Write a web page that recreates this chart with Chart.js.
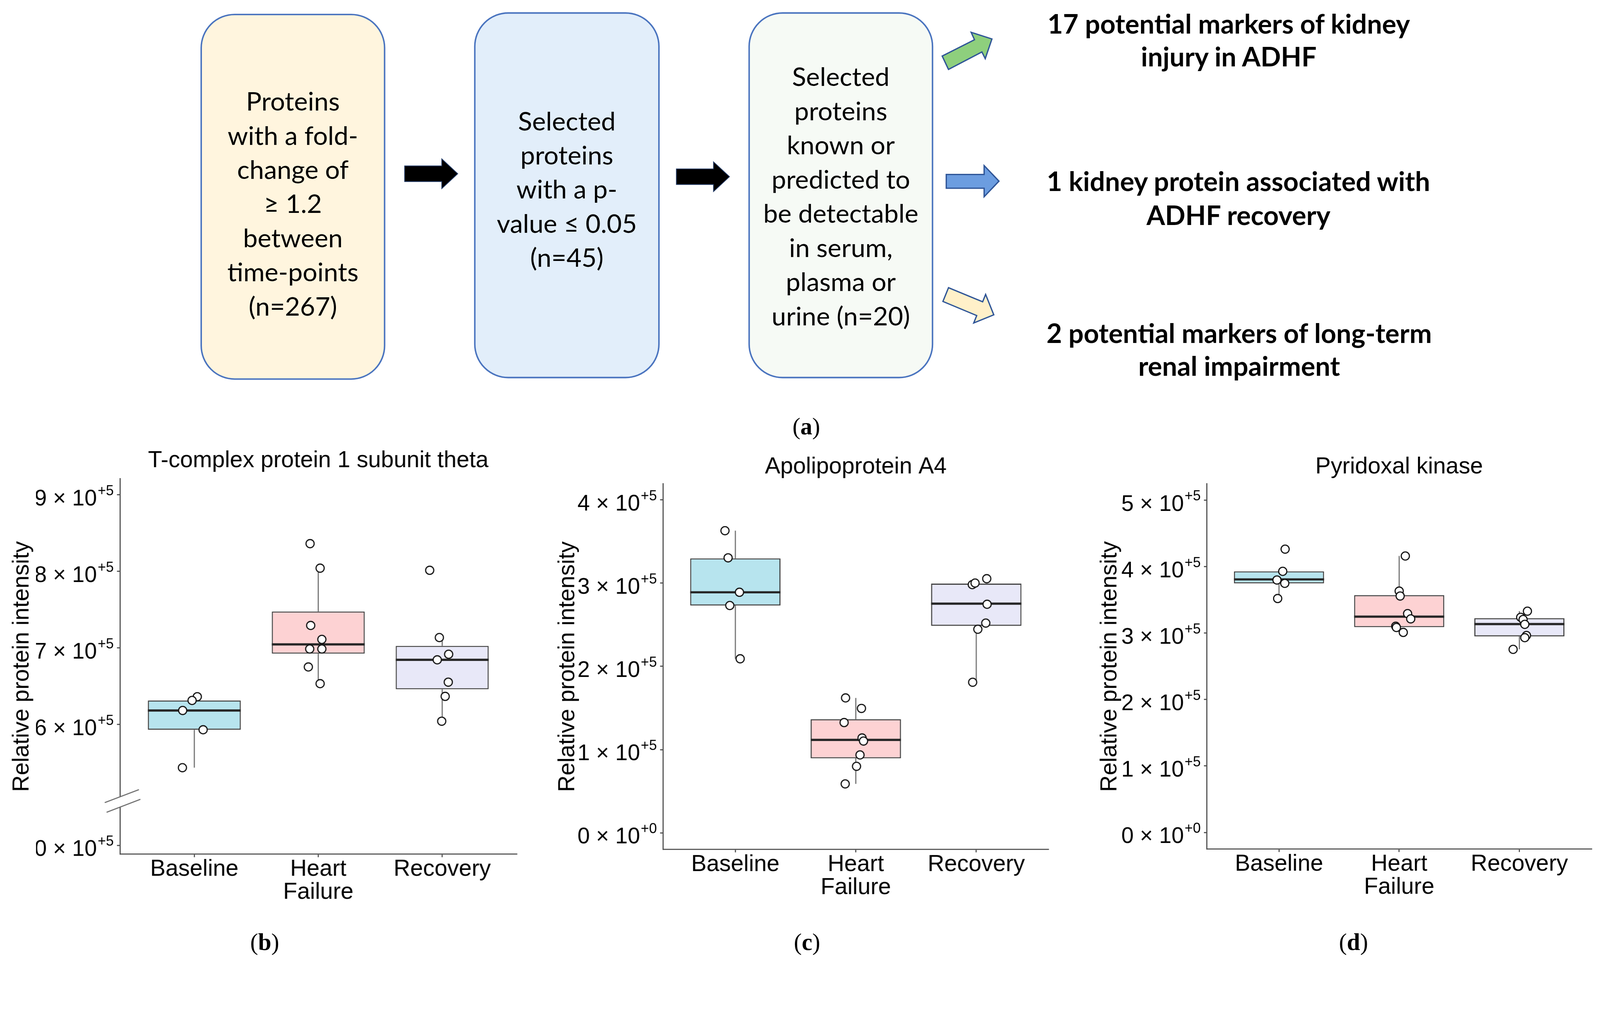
<!DOCTYPE html>
<html>
<head>
<meta charset="utf-8">
<script src="https://cdn.jsdelivr.net/npm/chart.js@4.4.1/dist/chart.umd.min.js"></script>
<style>
  html, body { margin:0; padding:0; background:#fff; overflow:hidden; }
  body { width:4310px; height:2606px; position:relative; transform-origin:0 0; }
  .box { position:absolute; box-sizing:border-box; border:4px solid #4a74bf; border-radius:92px; }
  .btxt { position:absolute; text-align:center; font-family:Lato, 'Open Sans', sans-serif; font-size:70px; line-height:92px; color:#000; white-space:nowrap; }
  .rtxt { position:absolute; text-align:center; font-family:Lato, 'Open Sans', sans-serif; font-weight:bold; font-size:72px; color:#000; white-space:nowrap; width:1400px; }
  .cap { position:absolute; font-family:'Liberation Serif', 'DejaVu Serif', serif; font-size:64px; color:#000; white-space:nowrap; transform:translate(-50%,-50%); }
  .panel { position:absolute; }
</style>
</head>
<body>
<!-- (a) flow chart -->
<div class="box" style="left:540px;top:37px;width:498px;height:986px;background:#fff5de;"></div>
<div class="box" style="left:1277px;top:33px;width:500px;height:986px;background:#e2eefa;"></div>
<div class="box" style="left:2016px;top:33px;width:498px;height:986px;background:#f6faf5;"></div>

<div class="btxt" style="left:540px;width:498px;top:225px;">Proteins<br>with a fold-<br>change of<br>≥ 1.2<br>between<br>time-points<br>(n=267)</div>
<div class="btxt" style="left:1277px;width:500px;top:278px;">Selected<br>proteins<br>with a p-<br>value ≤ 0.05<br>(n=45)</div>
<div class="btxt" style="left:2016px;width:498px;top:159px;">Selected<br>proteins<br>known or<br>predicted to<br>be detectable<br>in serum,<br>plasma or<br>urine (n=20)</div>

<svg style="position:absolute;left:0;top:0;" width="4310" height="1100">
  <polygon points="1090,447 1190,447 1190,428 1233,468 1190,508 1190,489 1090,489" fill="#000" stroke="#1f3864" stroke-width="2" stroke-linejoin="miter"/>
  <polygon points="1822,455 1922,455 1922,436 1965,476 1922,516 1922,497 1822,497" fill="#000" stroke="#1f3864" stroke-width="2" stroke-linejoin="miter"/>
  <polygon points="2555,187 2538,151 2625,107 2616,87 2672,105 2654,158 2645,140" fill="#8ecf7d" stroke="#2f5597" stroke-width="3.5" stroke-linejoin="miter"/>
  <polygon points="2549,470 2651,470 2651,446 2691,488 2651,530 2651,507 2549,507" fill="#6c9de0" stroke="#2f5597" stroke-width="3.5" stroke-linejoin="miter"/>
  <polygon points="2555,775 2540,812 2631,850 2623,870 2677,848 2655,793 2647,813" fill="#fff0c9" stroke="#2f5597" stroke-width="3.5" stroke-linejoin="miter"/>
</svg>

<div class="rtxt" style="left:2610px;top:18px;line-height:89px;">17 potential markers of kidney<br>injury in ADHF</div>
<div class="rtxt" style="left:2636px;top:442px;line-height:91px;">1 kidney protein associated with<br>ADHF recovery</div>
<div class="rtxt" style="left:2638px;top:852px;line-height:88px;">2 potential markers of long-term<br>renal impairment</div>

<div class="cap" style="left:2172px;top:1149px;">(<b>a</b>)</div>
<div class="cap" style="left:713px;top:2538px;">(<b>b</b>)</div>
<div class="cap" style="left:2174px;top:2538px;">(<b>c</b>)</div>
<div class="cap" style="left:3646px;top:2538px;">(<b>d</b>)</div>

<div class="panel" style="left:0px;top:1150px;width:1440px;height:1330px;"><canvas id="chartB" width="1440" height="1330" style="width:1440px;height:1330px;"></canvas></div>
<div class="panel" style="left:1450px;top:1150px;width:1420px;height:1330px;"><canvas id="chartC" width="1420" height="1330" style="width:1420px;height:1330px;"></canvas></div>
<div class="panel" style="left:2880px;top:1150px;width:1430px;height:1330px;"><canvas id="chartD" width="1430" height="1330" style="width:1430px;height:1330px;"></canvas></div>

<script>
// ---------- shared categories ----------
const categoryLabels = [['Baseline'], ['Heart', 'Failure'], ['Recovery']];
const categoryPos = [1, 2, 3];
const boxFill = ['#b7e4ee', '#fdd2d3', '#e8e8f8'];
const yAxisTitle = 'Relative protein intensity';

// ---------- (b) T-complex protein 1 subunit theta ----------
const tcpTitle = 'T-complex protein 1 subunit theta';
const tcpBaseline = [636400, 631500, 618400, 593200, 543700];
const tcpBaselineJit = [0.024, -0.018, -0.094, 0.071, -0.096];
const tcpHeart = [836200, 804200, 729400, 711200, 698700, 698700, 675200, 653400];
const tcpHeartJit = [-0.066, 0.015, -0.061, 0.029, -0.069, 0.029, -0.080, 0.015];
const tcpRecovery = [801400, 713600, 691800, 684500, 655400, 636800, 604400];
const tcpRecoveryJit = [-0.101, -0.023, 0.052, -0.040, 0.049, 0.024, -0.004];
const tcpLo  = [543700, 653400, 604400];
const tcpQ1  = [593200, 692600, 646100];
const tcpMed = [618400, 704700, 684500];
const tcpQ3  = [631500, 747600, 702700];
const tcpHi  = [636400, 804200, 713600];
const tcpTickValues = [0, 600000, 700000, 800000, 900000];
const tcpTickLabels = ['0 × 10', '6 × 10', '7 × 10', '8 × 10', '9 × 10'];
const tcpTickExp    = ['+5', '+5', '+5', '+5', '+5'];

// ---------- (c) Apolipoprotein A4 ----------
const apoTitle = 'Apolipoprotein A4';
const apoBaseline = [363000, 330400, 289000, 273100, 209100];
const apoBaselineJit = [-0.086, -0.060, 0.034, -0.046, 0.040];
const apoHeart = [162100, 149500, 132500, 114000, 110300, 93600, 79900, 58800];
const apoHeartJit = [-0.085, 0.047, -0.097, 0.052, 0.064, 0.035, 0.006, -0.088];
const apoRecovery = [298200, 300100, 305300, 274600, 252000, 244600, 180900];
const apoRecoveryJit = [-0.033, -0.010, 0.087, 0.090, 0.079, 0.013, -0.030];
const apoLo  = [209100, 58800, 180900];
const apoQ1  = [273100, 89500, 248700];
const apoMed = [289000, 111700, 275300];
const apoQ3  = [329700, 136500, 299400];
const apoHi  = [363000, 162100, 305300];
const apoTickValues = [0, 100000, 200000, 300000, 400000];
const apoTickLabels = ['0 × 10', '1 × 10', '2 × 10', '3 × 10', '4 × 10'];
const apoTickExp    = ['+0', '+5', '+5', '+5', '+5'];

// ---------- (d) Pyridoxal kinase ----------
const pdxTitle = 'Pyridoxal kinase';
const pdxBaseline = [426300, 392900, 379900, 374800, 352000];
const pdxBaselineJit = [0.051, 0.031, -0.017, 0.048, -0.011];
const pdxHeart = [416000, 363200, 355800, 329300, 321400, 310300, 308400, 301000];
const pdxHeartJit = [0.051, 0.000, 0.008, 0.070, 0.096, -0.029, -0.023, 0.034];
const pdxRecovery = [333000, 323700, 320500, 313100, 296400, 293100, 275500];
const pdxRecoveryJit = [0.067, 0.011, 0.031, 0.045, 0.059, 0.045, -0.052];
const pdxLo  = [352000, 301000, 275500];
const pdxQ1  = [374800, 308900, 295000];
const pdxMed = [380800, 324700, 313500];
const pdxQ3  = [392900, 357100, 322400];
const pdxHi  = [392900, 416000, 333000];
const pdxTickValues = [0, 100000, 200000, 300000, 400000, 500000];
const pdxTickLabels = ['0 × 10', '1 × 10', '2 × 10', '3 × 10', '4 × 10', '5 × 10'];
const pdxTickExp    = ['+0', '+5', '+5', '+5', '+5', '+5'];

// ---------- fit page to the window ----------
(function fitPage() {
  const s = Math.min(window.innerWidth / 4310, window.innerHeight / 2606);
  if (s > 0 && Math.abs(s - 1) > 0.002) {
    document.body.style.transform = 'scale(' + s + ')';
  }
  window.__pageScale = s > 0 ? s : 1;
})();

// ---------- styling ----------
const FONT = "'Liberation Sans', Arial, sans-serif";
const AXIS = '#4d4d4d';
const BOX_HALF = 0.375;
const TICK_LEN = 8;
const TICK_PAD = 54;
const DPR = (window.devicePixelRatio || 1) * window.__pageScale;

function boxDatasets(st, series, jitters, yID) {
  const boxes = categoryPos.map((c, i) => ({x: c, y: [st.q1[i], st.q3[i]]}));
  const whisk = [];
  categoryPos.forEach((c, i) => {
    whisk.push({x: c, y: st.lo[i]}, {x: c, y: st.q1[i]}, {x: c, y: null},
               {x: c, y: st.q3[i]}, {x: c, y: st.hi[i]}, {x: c, y: null});
  });
  const med = [];
  categoryPos.forEach((c, i) => {
    med.push({x: c - BOX_HALF, y: st.med[i]}, {x: c + BOX_HALF, y: st.med[i]}, {x: c, y: null});
  });
  const pts = [];
  series.forEach((vals, i) => vals.forEach((v, k) => pts.push({x: categoryPos[i] + jitters[i][k], y: v})));
  return [
    {type: 'bar', data: boxes, backgroundColor: boxFill, borderColor: '#404040', borderWidth: 3,
     borderSkipped: false, barPercentage: 0.75, categoryPercentage: 1, yAxisID: yID, order: 2},
    {type: 'line', data: whisk, borderColor: '#707070', borderWidth: 3, pointRadius: 0,
     spanGaps: false, fill: false, yAxisID: yID, order: 3},
    {type: 'line', data: med, borderColor: '#262626', borderWidth: 6, pointRadius: 0,
     spanGaps: false, fill: false, yAxisID: yID, order: 1},
    {type: 'scatter', data: pts, pointRadius: 11, pointBorderWidth: 3, pointBackgroundColor: '#ffffff',
     pointBorderColor: '#111111', yAxisID: yID, order: 0}
  ];
}

function xAxis(height) {
  return {
    type: 'linear', min: 0.4, max: 3.6, offset: false,
    afterBuildTicks: s => { s.ticks = categoryPos.map(v => ({value: v})); },
    afterFit: s => { s.height = height; },
    grid: {display: true, drawOnChartArea: false, drawTicks: true, tickLength: TICK_LEN, color: AXIS, lineWidth: 3, offset: false},
    border: {display: true, color: AXIS, width: 3},
    ticks: {font: {family: FONT, size: 62, lineHeight: 1.0}, color: '#000', padding: 2, maxRotation: 0, autoSkip: false,
      callback: v => { const i = categoryPos.indexOf(v); return i >= 0 ? categoryLabels[i] : ''; }}
  };
}

function yAxis(width, tickVals, tickLabels, extra) {
  return Object.assign({
    type: 'linear', position: 'left',
    afterFit: s => { s.width = width; },
    afterBuildTicks: s => { s.ticks = tickVals.filter(v => v >= s.min && v <= s.max).map(v => ({value: v})); },
    grid: {display: true, drawOnChartArea: false, drawTicks: true, tickLength: TICK_LEN, color: AXIS, lineWidth: 3},
    border: {display: true, color: AXIS, width: 3},
    ticks: {font: {family: FONT, size: 60}, color: '#000', padding: TICK_PAD, labelOffset: 12,
      callback: v => tickLabels[tickVals.indexOf(v)]}
  }, extra);
}

function yTitleOpts(padTop) {
  return {display: true, text: yAxisTitle, color: '#000', font: {family: FONT, size: 62}, padding: {top: padTop, bottom: 0}};
}

function titleOpts(text, padTop, padBottom) {
  return {display: true, text: text, color: '#000', fullSize: false,
    font: {family: FONT, size: 62, weight: 'normal'}, padding: {top: padTop, bottom: padBottom}};
}

// superscript exponents drawn next to each y tick label
function expPlugin(axisMap) {
  return {
    id: 'tickExp',
    afterDraw(chart) {
      const ctx = chart.ctx;
      ctx.save();
      ctx.font = '38px ' + FONT;
      ctx.fillStyle = '#000';
      ctx.textAlign = 'left';
      ctx.textBaseline = 'alphabetic';
      Object.keys(axisMap).forEach(id => {
        const sc = chart.scales[id];
        const m = axisMap[id];
        sc.ticks.forEach(t => {
          const i = m.vals.indexOf(t.value);
          if (i < 0) return;
          ctx.fillText(m.exps[i], sc.right - TICK_LEN - TICK_PAD + 2, sc.getPixelForValue(t.value) + 1);
        });
      });
      ctx.restore();
    }
  };
}

const baseOpts = {
  responsive: false, animation: false, devicePixelRatio: DPR, events: [],
  plugins: {legend: {display: false}, tooltip: {enabled: false}}
};

// axis-break marks for panel (b)
const breakPlugin = {
  id: 'axisBreak',
  afterDraw(chart) {
    const ctx = chart.ctx;
    const yt = chart.scales.yTop;
    const x0 = yt.right, y0 = yt.bottom;
    ctx.save();
    ctx.fillStyle = '#fff';
    ctx.fillRect(x0 - 4, y0 - 12, 8, 28);
    ctx.strokeStyle = '#6a6a6a';
    ctx.lineWidth = 3;
    ctx.beginPath();
    ctx.moveTo(x0 - 41, y0 + 4); ctx.lineTo(x0 + 51, y0 - 31);
    ctx.moveTo(x0 - 36, y0 + 30); ctx.lineTo(x0 + 55, y0 - 5);
    ctx.stroke();
    ctx.restore();
  }
};

// ---------- chart (b) ----------
new Chart(document.getElementById('chartB'), {
  type: 'bar',
  data: {datasets: boxDatasets({lo: tcpLo, q1: tcpQ1, med: tcpMed, q3: tcpQ3, hi: tcpHi},
    [tcpBaseline, tcpHeart, tcpRecovery], [tcpBaselineJit, tcpHeartJit, tcpRecoveryJit], 'yTop')},
  options: Object.assign({}, baseOpts, {
    layout: {padding: {top: 0, left: 0, right: 49, bottom: 0}},
    plugins: Object.assign({}, baseOpts.plugins, {title: titleOpts(tcpTitle, 54, 11)}),
    scales: {
      x: xAxis(179),
      yTitle: {type: 'linear', position: 'left', weight: 10, min: 0, max: 1,
        afterFit: s => { s.width = 97; },
        ticks: {display: false}, grid: {display: false, drawTicks: false}, border: {display: false},
        title: yTitleOpts(23)},
      yBot: yAxis(226, tcpTickValues, tcpTickLabels, {min: -11600, max: 57700, stack: 'tcp', stackWeight: 0.693}),
      yTop: yAxis(226, tcpTickValues, tcpTickLabels, {min: 500000, max: 921000, stack: 'tcp', stackWeight: 4.21})
    }
  }),
  plugins: [breakPlugin, expPlugin({yTop: {vals: tcpTickValues, exps: tcpTickExp}, yBot: {vals: tcpTickValues, exps: tcpTickExp}})]
});

// ---------- chart (c) ----------
new Chart(document.getElementById('chartC'), {
  type: 'bar',
  data: {datasets: boxDatasets({lo: apoLo, q1: apoQ1, med: apoMed, q3: apoQ3, hi: apoHi},
    [apoBaseline, apoHeart, apoRecovery], [apoBaselineJit, apoHeartJit, apoRecoveryJit], 'y')},
  options: Object.assign({}, baseOpts, {
    layout: {padding: {top: 0, left: 0, right: 46, bottom: 0}},
    plugins: Object.assign({}, baseOpts.plugins, {title: titleOpts(apoTitle, 71, 8)}),
    scales: {
      x: xAxis(192),
      y: yAxis(336, apoTickValues, apoTickLabels, {min: -19900, max: 419200, title: yTitleOpts(42)})
    }
  }),
  plugins: [expPlugin({y: {vals: apoTickValues, exps: apoTickExp}})]
});

// ---------- chart (d) ----------
new Chart(document.getElementById('chartD'), {
  type: 'bar',
  data: {datasets: boxDatasets({lo: pdxLo, q1: pdxQ1, med: pdxMed, q3: pdxQ3, hi: pdxHi},
    [pdxBaseline, pdxHeart, pdxRecovery], [pdxBaselineJit, pdxHeartJit, pdxRecoveryJit], 'y')},
  options: Object.assign({}, baseOpts, {
    layout: {padding: {top: 0, left: 0, right: 23, bottom: 0}},
    plugins: Object.assign({}, baseOpts.plugins, {title: titleOpts(pdxTitle, 71, 8)}),
    scales: {
      x: xAxis(193),
      y: yAxis(371, pdxTickValues, pdxTickLabels, {min: -25000, max: 524500, title: yTitleOpts(73)})
    }
  }),
  plugins: [expPlugin({y: {vals: pdxTickValues, exps: pdxTickExp}})]
});
</script>
</body>
</html>
